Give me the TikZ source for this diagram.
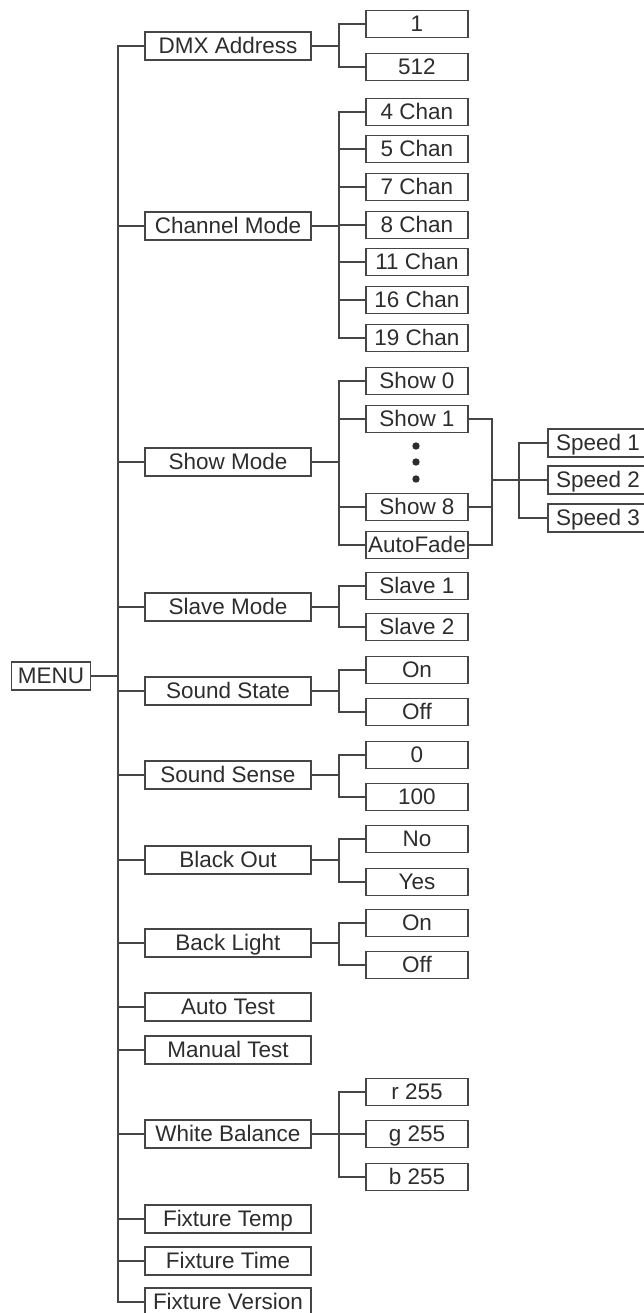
\documentclass[tikz,border=0pt]{standalone}
\usepackage{fontspec}
\setmainfont{Liberation Sans}
\usepackage{tikz}
\definecolor{menuline}{RGB}{70,70,70}
\definecolor{menutext}{RGB}{45,45,45}
\tikzset{
  menubox/.style={draw=menuline, line width=0.9pt, text=menutext, inner sep=0pt,
    text height=9pt, text depth=0pt},
  topbox/.style={menubox, minimum width=3.32cm, minimum height=0.56cm},
  subbox/.style={menubox, minimum width=2.04cm, minimum height=0.54cm},
  speedbox/.style={menubox, minimum width=2.0cm, minimum height=0.56cm},
  link/.style={draw=menuline, line width=0.9pt}
}

\begin{document}
\begin{tikzpicture}[x=0.02cm, y=-0.02cm, font=\fontsize{12.8}{14}\selectfont]
  \useasboundingbox (0,0) rectangle (644,1313);
  % root and first level
  \node[topbox, minimum width=1.58cm] (menu) at (51,676) {MENU};
  \foreach \n/\y/\t in {dmx/46/DMX Address, chan/226/Channel Mode, show/462/Show Mode,
      slave/607/Slave Mode, sstate/691/Sound State, ssense/775/Sound Sense,
      blackout/860/Black Out, backlight/943/Back Light, autotest/1007/Auto Test,
      manualtest/1050/Manual Test, white/1134/White Balance, ftemp/1219/Fixture Temp,
      ftime/1261/Fixture Time, fversion/1302/Fixture Version}
    \node[topbox] (\n) at (228,\y) {\t};
  % second level
  \foreach \n/\y/\t in {dmxa/24/1, dmxb/67/512,
      ch4/112/4 Chan, ch5/149/5 Chan, ch7/187/7 Chan, ch8/225/8 Chan,
      ch11/262/11 Chan, ch16/300/16 Chan, ch19/338/19 Chan,
      show0/381/Show 0, show1/419/Show 1, show8/507/Show 8, autofade/545/AutoFade,
      slavea/586/Slave 1, slaveb/627/Slave 2,
      sson/670/On, ssoff/712/Off, sensea/755/0, senseb/797/100,
      bono/839/No, boyes/882/Yes, blon/923/On, bloff/965/Off,
      wbr/1092/r 255, wbg/1134/g 255, wbb/1177/b 255}
    \node[subbox] (\n) at (417,\y) {\t};
  \foreach \y in {446,462,479}
    \fill[menutext] (416,\y) circle[radius=2.1pt];
  % third level
  \foreach \n/\y/\t in {speed1/443/Speed 1, speed2/480/Speed 2, speed3/518/Speed 3}
    \node[speedbox] (\n) at (598,\y) {\t};

  % trunk
  \coordinate (trunk) at (118,676);
  \draw[link] (dmx.west) -| (trunk) |- (fversion.west);
  \draw[link] (menu.east) -- (trunk);
  \foreach \n in {chan,show,slave,sstate,ssense,blackout,backlight,autotest,
      manualtest,white,ftemp,ftime}
    \draw[link] (\n.west) -- (\n.west -| trunk);
  % branches
  \foreach \p/\c in {dmx/dmxa, dmx/dmxb, chan/ch4, chan/ch5, chan/ch7, chan/ch8,
      chan/ch11, chan/ch16, chan/ch19, show/show0, show/show1, show/show8,
      show/autofade, slave/slavea, slave/slaveb, sstate/sson, sstate/ssoff,
      ssense/sensea, ssense/senseb, blackout/bono, blackout/boyes,
      backlight/blon, backlight/bloff, white/wbr, white/wbg, white/wbb}
    \draw[link] (\p.east) -- ++(27,0) |- (\c.west);
  % show speeds
  \coordinate (showjoin) at (492,480);
  \draw[link] (show1.east) -| (showjoin);
  \draw[link] (autofade.east) -| (showjoin);
  \draw[link] (show8.east) -- (show8.east -| showjoin);
  \foreach \s in {speed1,speed2,speed3}
    \draw[link] (showjoin) -- ++(27,0) |- (\s.west);
\end{tikzpicture}
\end{document}
